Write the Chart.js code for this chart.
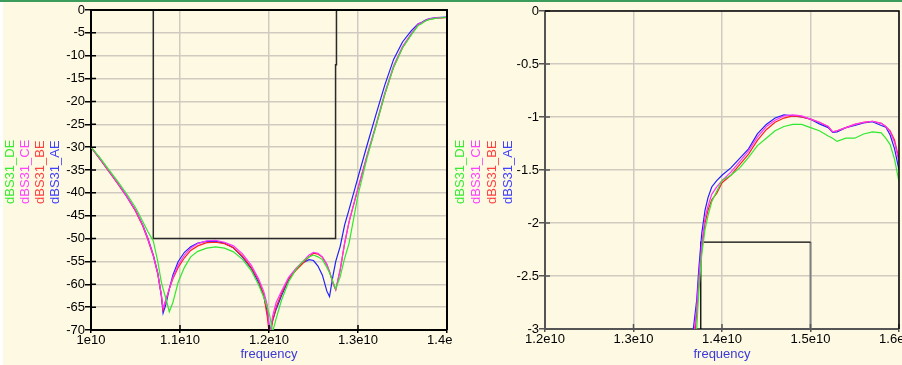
<!DOCTYPE html>
<html><head><meta charset="utf-8">
<script src="https://cdn.jsdelivr.net/npm/chart.js@4.4.1/dist/chart.umd.min.js"></script>
<style>
html,body{margin:0;padding:0;}
body{width:902px;height:365px;background:#fef9e3;position:relative;overflow:hidden;font-family:"Liberation Sans",Arial,sans-serif;}
#topbar{position:absolute;left:0;top:0;width:902px;height:2px;background:#3c9c5c;z-index:5;}
#leftstrip{position:absolute;left:0;top:0;width:3px;height:365px;background:#ffffff;z-index:4;}
.wrap{position:absolute;top:0;height:365px;overflow:hidden;}
#w1{left:0;width:452px;} #w2{left:452px;width:450px;}
.leg{position:absolute;font-size:13px;white-space:nowrap;transform-origin:0 0;transform:rotate(-90deg);line-height:15px;z-index:6;}
</style>
</head><body>
<div id="topbar"></div><div id="leftstrip"></div>
<div class="wrap" id="w1"><canvas id="c1" width="452" height="365"></canvas></div>
<div class="wrap" id="w2"><canvas id="c2" width="450" height="365"></canvas></div>
<script>
// ---- data ----
const seriesNames = ["dBS31_DE", "dBS31_CE", "dBS31_BE", "dBS31_AE"];
const seriesColors = ["#30e830", "#ff33ff", "#ff2020", "#2020ff"];
const legendColors = ["#33ee33", "#ff40ff", "#ff4040", "#4040ff"];

const freq = [
 1.000e10,1.010e10,1.020e10,1.030e10,1.040e10,1.050e10,1.058e10,1.064e10,1.070e10,1.075e10,
 1.079e10,1.081e10,1.084e10,1.088e10,1.092e10,1.098e10,1.105e10,1.112e10,1.120e10,1.130e10,
 1.140e10,1.150e10,1.160e10,1.170e10,1.180e10,1.188e10,1.194e10,1.198e10,1.201e10,1.204e10,
 1.208e10,1.214e10,1.222e10,1.230e10,1.238e10,1.245e10,1.250e10,1.255e10,1.260e10,1.265e10,
 1.268e10,1.272e10,1.275e10,1.280e10,1.285e10,1.290e10,1.300e10,1.310e10,1.320e10,1.330e10,
 1.340e10,1.350e10,1.360e10,
 1.3676e10,1.3714e10,1.3740e10,1.3771e10,1.3808e10,1.3842e10,1.3884e10,1.3940e10,1.400e10,1.410e10,
 1.420e10,1.430e10,1.440e10,1.450e10,1.460e10,1.470e10,1.480e10,1.490e10,1.500e10,1.510e10,
 1.520e10,1.525e10,1.530e10,1.540e10,1.550e10,1.560e10,1.570e10,1.580e10,1.585e10,1.590e10,
 1.595e10,1.600e10
];

const dBS31_AE = [
 -30,-32.5,-35.2,-37.9,-40.7,-43.8,-47,-50,-53.6,-57.5,
 -62.5,-66.3,-64.5,-61,-58,-55,-53,-51.8,-51,-50.6,
 -50.6,-51,-52,-54,-56.5,-59.5,-62.5,-66,-70.5,-68,
 -65.5,-62.5,-59,-56.8,-55.3,-54.6,-54.8,-56,-58,-61.5,
 -62.7,-58,-55,-51.7,-47,-43.6,-36.6,-29.7,-23,-16.5,
 -10.8,-7,-4.5,
 -3.0,-2.73,-2.41,-2.1,-1.88,-1.76,-1.66,-1.6,-1.55,-1.48,
 -1.39,-1.3,-1.16,-1.07,-1.01,-0.98,-0.99,-1.0,-1.02,-1.065,
 -1.1,-1.145,-1.14,-1.1,-1.08,-1.055,-1.045,-1.08,-1.095,-1.17,
 -1.3,-1.5
];
const dBS31_BE = [
 -30,-32.6,-35.3,-38,-40.8,-44,-47.2,-50.3,-53.8,-57.8,
 -62.3,-65.6,-63.5,-61,-58.8,-56.3,-54.2,-52.6,-51.6,-50.9,
 -50.8,-51.1,-52,-53.8,-56.3,-59,-62.2,-67,-72,-68,
 -65,-62,-58.8,-57,-55.4,-54,-53.2,-53.4,-54.1,-55.7,
 -57.3,-59.8,-61.2,-56.8,-51,-46.3,-39,-32,-25.5,-18.5,
 -12.5,-8.2,-5.3,
 -3.2,-2.85,-2.55,-2.25,-2.0,-1.88,-1.78,-1.72,-1.62,-1.55,
 -1.45,-1.35,-1.22,-1.12,-1.05,-1.01,-0.99,-1.0,-1.02,-1.05,
 -1.09,-1.14,-1.13,-1.1,-1.07,-1.05,-1.04,-1.06,-1.09,-1.13,
 -1.22,-1.4
];
const dBS31_CE = [
 -30,-32.5,-35.2,-37.9,-40.7,-43.8,-47,-50.1,-53.7,-57.6,
 -62.2,-65.3,-63.5,-61,-58.5,-55.8,-53.6,-52.1,-51.1,-50.5,
 -50.4,-50.8,-51.6,-53.3,-55.8,-58.7,-61.5,-64.5,-71,-67,
 -64,-61.5,-58.5,-56.6,-55,-53.6,-53,-53.2,-54,-55.6,
 -57.2,-59.8,-61.2,-56.8,-51,-46.3,-39,-32,-25.2,-18.2,
 -12.2,-8,-5.1,
 -3.1,-2.8,-2.5,-2.2,-1.95,-1.84,-1.73,-1.66,-1.6,-1.52,
 -1.42,-1.32,-1.19,-1.09,-1.03,-0.99,-0.98,-0.99,-1.02,-1.05,
 -1.09,-1.14,-1.13,-1.1,-1.07,-1.05,-1.04,-1.06,-1.09,-1.14,
 -1.24,-1.42
];
const dBS31_DE = [
 -30,-32.3,-34.9,-37.5,-40.2,-43.2,-46.2,-48.5,-50.5,-55,
 -59.5,-61,-63,-66,-64,-59.5,-56.3,-54,-52.8,-52.1,
 -51.8,-52.1,-52.9,-54.5,-57,-60,-62.8,-65,-67,-70.5,
 -67.5,-63.5,-59.5,-56.8,-55,-54,-53.6,-54,-54.6,-56.3,
 -57.5,-59.5,-61,-58.3,-54.3,-51,-40.5,-32.5,-25.5,-18.5,
 -12.5,-8.3,-5.4,
 -3.4,-3.0,-2.62,-2.3,-2.06,-1.93,-1.8,-1.7,-1.6,-1.55,
 -1.48,-1.38,-1.27,-1.2,-1.13,-1.09,-1.07,-1.07,-1.1,-1.13,
 -1.18,-1.2,-1.23,-1.2,-1.2,-1.16,-1.14,-1.15,-1.2,-1.26,
 -1.4,-1.61
];
const seriesValues = [dBS31_DE, dBS31_CE, dBS31_BE, dBS31_AE];

// spec mask lines
const maskLeftF  = [1.070e10, 1.070e10, 1.2748e10, 1.2748e10, 1.2758e10, 1.2758e10];
const maskLeftDb = [0, -50, -50, -12, -12, 0];
const maskRightF  = [1.376e10, 1.376e10, 1.500e10];
const maskRightDb = [-3, -2.18, -2.18];
const maskRight2F  = [1.500e10, 1.500e10];
const maskRight2Db = [-2.18, -3];

// tick labels (ascending order)
const leftXLabels  = ["1e10", "1.1e10", "1.2e10", "1.3e10", "1.4e10"];
const leftYLabels  = ["-70","-65","-60","-55","-50","-45","-40","-35","-30","-25","-20","-15","-10","-5","0"];
const rightXLabels = ["1.2e10", "1.3e10", "1.4e10", "1.5e10", "1.6e10"];
const rightYLabels = ["-3","-2.5","-2","-1.5","-1","-0.5","0"];
const axisTitle = "frequency";

// ---- chart ----
const FONT = {family: "'Liberation Sans', Arial, sans-serif", size: 13};
function pts(xs, ys){ return xs.map((x,i)=>({x:x, y:ys[i]})); }

const framePlugin = {
  id: 'frame',
  afterDraw(chart, args, o){
    const {ctx, chartArea:a, scales:{x, y}} = chart;
    ctx.save();
    ctx.strokeStyle = o.tick; ctx.lineWidth = 1.5;
    ctx.beginPath();
    y.ticks.forEach(t=>{ const py = y.getPixelForValue(t.value); ctx.moveTo(a.left, py); ctx.lineTo(a.left+5, py); });
    x.ticks.forEach(t=>{ const px = x.getPixelForValue(t.value); ctx.moveTo(px, a.bottom); ctx.lineTo(px, a.bottom-5); });
    ctx.stroke();
    ctx.strokeStyle = o.frame; ctx.lineWidth = o.fw;
    ctx.beginPath(); ctx.moveTo(a.left, a.top); ctx.lineTo(a.right, a.top); ctx.lineTo(a.right, a.bottom); ctx.stroke();
    ctx.restore();
  }
};

function makeChart(id, cfg){
  const datasets = seriesValues.map((vals, i)=>({
    label: seriesNames[i], data: pts(freq, vals), borderColor: seriesColors[i],
    borderWidth: 1.2, pointRadius: 0, tension: 0, fill: false
  }));
  cfg.masks.forEach(m=> datasets.push({label:'mask', data: pts(m.f, m.db), borderColor: m.color,
    borderWidth: m.w, pointRadius: 0, tension: 0, fill:false}));
  return new Chart(document.getElementById(id), {
    type: 'line',
    data: {datasets},
    options: {
      responsive: false, animation: false, events: [],
      layout: {padding: {top: cfg.top, right: cfg.right, left: 0, bottom: 0}},
      plugins: {legend: {display:false}, tooltip: {enabled:false},
        frame: {tick: cfg.axisColor, frame: '#000', fw: cfg.fw}},
      scales: {
        x: {type:'linear', min: cfg.xmin, max: cfg.xmax,
          ticks: {stepSize: 1e9, autoSkip: false, maxRotation: 0, color:'#000', font: FONT, padding: 0,
            callback: (v, i) => cfg.xLabels[i]},
          grid: {color:'#cfcbc0', lineWidth: 1.5, tickLength: 3, tickColor: cfg.axisColor},
          border: {color: cfg.axisColor, width: 2},
          title: {display: true, text: axisTitle, color: '#3a3ad8', font: FONT, padding: {top:0, bottom:3}},
          afterFit: s => { s.height = cfg.xh; s.paddingLeft = 0; s.paddingRight = 0; }
        },
        y: {type:'linear', min: cfg.ymin, max: 0,
          ticks: {stepSize: cfg.ystep, autoSkip: false, color:'#000', font: FONT, padding: 0,
            callback: (v, i) => cfg.yLabels[i]},
          grid: {color:'#cfcbc0', lineWidth: 1.5, tickLength: 6, tickColor: cfg.axisColor},
          border: {color: cfg.axisColor, width: 2},
          afterFit: s => { s.width = cfg.yw; s.paddingTop = 0; s.paddingBottom = 0; }
        }
      }
    },
    plugins: [framePlugin]
  });
}

makeChart('c1', {xmin:1e10, xmax:1.4e10, ymin:-70, ystep:5, xLabels:leftXLabels, yLabels:leftYLabels,
  top:10, right:5, xh:35, yw:91, axisColor:'#000', fw:2,
  masks:[{f:maskLeftF, db:maskLeftDb, color:'#2a2a2a', w:1.5}]});
makeChart('c2', {xmin:1.2e10, xmax:1.6e10, ymin:-3, ystep:0.5, xLabels:rightXLabels, yLabels:rightYLabels,
  top:11, right:3, xh:36, yw:93, axisColor:'#555', fw:1.5,
  masks:[{f:maskRightF, db:maskRightDb, color:'#000', w:1.3}, {f:maskRight2F, db:maskRight2Db, color:'#808080', w:2}]});

// rotated legends
const legLeftX = [2, 17, 32, 47];
const legRightX = [452, 468, 484, 500];
[legLeftX, legRightX].forEach(xs=>{
  seriesNames.forEach((n, i)=>{
    const d = document.createElement('div');
    d.className = 'leg'; d.textContent = n;
    d.style.left = xs[i] + 'px'; d.style.top = '204px'; d.style.color = legendColors[i];
    document.body.appendChild(d);
  });
});
</script>
</body></html>
